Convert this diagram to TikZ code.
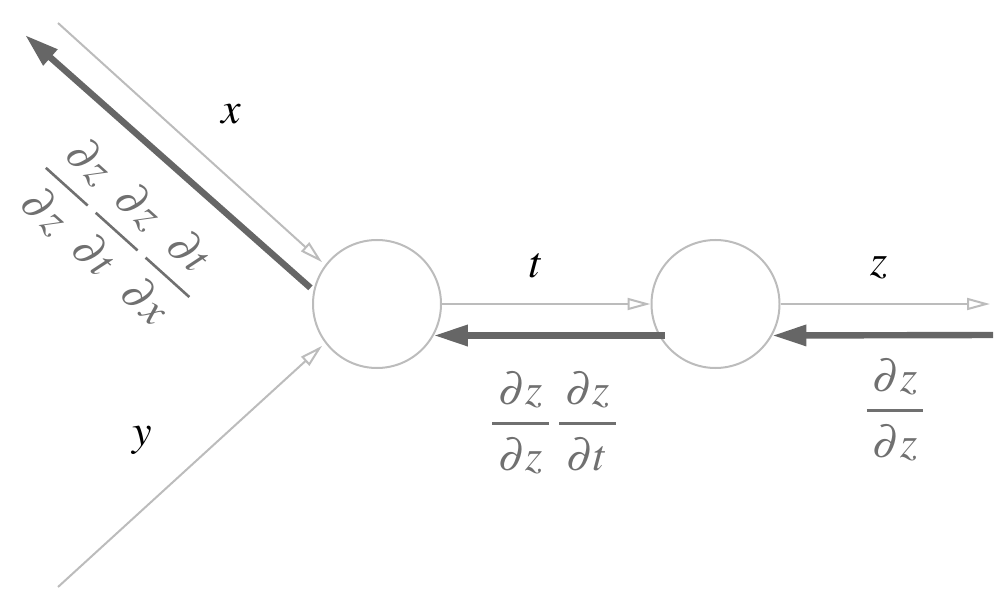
\documentclass[tikz,border=0pt]{standalone}
\usepackage{amsmath,amssymb}
\usepackage{mathptmx}
\usepackage{xcolor}
\usepackage{tikz}
\usetikzlibrary{arrows.meta,calc,positioning}
\definecolor{cgline}{RGB}{188,188,188}
\definecolor{cgback}{RGB}{102,102,102}
\definecolor{cglabel}{RGB}{112,112,112}
\newcommand{\gradfrac}[2]{\genfrac{}{}{1.3pt}{0}%
   {\hspace{3pt}\partial #1\hspace{3pt}\rule[-5pt]{0pt}{5pt}}%
   {\hspace{3pt}\partial #2\hspace{3pt}\rule{0pt}{19pt}}}

\begin{document}
\begin{tikzpicture}[x=0.5pt, y=-0.5pt, line cap=butt, line join=round,
   font=\fontsize{22}{26}\selectfont,
   opnode/.style={circle, draw=cgline, line width=1pt, minimum size=64pt, inner sep=0pt},
   fwd/.style={cgline, line width=1pt, -{Triangle[open, length=11.5pt, width=6pt]}},
   bwd/.style={cgback, line width=3.2pt, -{Triangle[length=17pt, width=10pt]}},
   varlbl/.style={text=black, inner sep=0pt},
   gradlbl/.style={text=cglabel, inner sep=0pt}]
   \path[use as bounding box] (0,0) rectangle (1006,604); % canvas of the reference

   % the two operation nodes
   \node[opnode] (mul) at (377,304) {};
   \node[opnode] (out) at (715.5,304) {};

   % free ends
   \coordinate (xin)  at (58,23);
   \coordinate (xend) at (25,35);
   \coordinate (yin)  at (58,587);
   \coordinate (zend) at (990,304);
   \coordinate (zin)  at (993,335);

   % forward pass
   \draw[fwd, shorten >=2pt] (xin) -- (mul.143);
   \draw[fwd, shorten >=2pt] (yin) -- (mul.217);
   \draw[fwd] (mul.east) -- (out.west);
   \draw[fwd] (out.east) -- (zend);

   % backward pass
   \draw[bwd] (zin) -- (out.-29);
   \draw[bwd, shorten <=-3pt] (out.209) -- (mul.-29);
   \draw[bwd, shorten <=2pt] (mul.168) -- (xend);

   % variable names
   \node[varlbl] (xlbl) at (231,114) {$x$};
   \node[varlbl] (ylbl) at (142,440) {$y$};
   \node[varlbl] (tlbl) at (537,266) {$t$};
   \node[varlbl] (zlbl) at (879,268) {$z$};

   % local gradients
   \node[gradlbl, rotate=-42] (gx) at (118,232)
      {$\gradfrac{z}{z}\hspace{3pt}\gradfrac{z}{t}\hspace{3pt}\gradfrac{t}{x}$};
   \node[gradlbl] (gt) at (554,423)
      {$\gradfrac{z}{z}\hspace{3pt}\gradfrac{z}{t}$};
   \node[gradlbl] (gz) at (895,410) {$\gradfrac{z}{z}$};

\end{tikzpicture}
\end{document}
